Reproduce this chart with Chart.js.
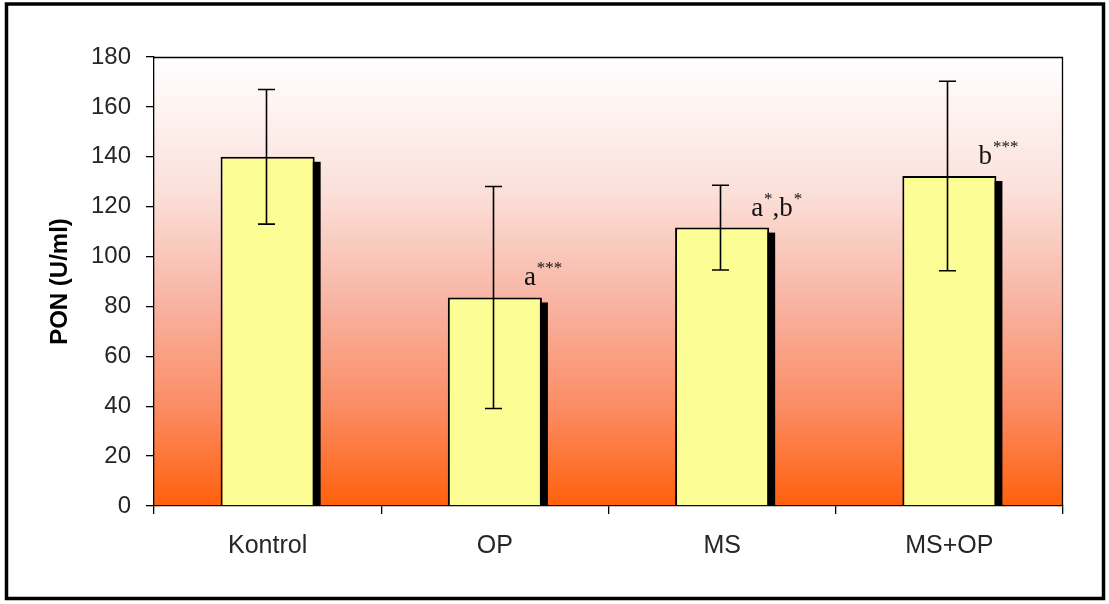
<!DOCTYPE html>
<html>
<head>
<meta charset="utf-8">
<script src="https://cdn.jsdelivr.net/npm/chart.js@4.4.0/dist/chart.umd.min.js"></script>
<style>
  html, body { margin: 0; padding: 0; background: #fff; }
  #wrap { width: 1109px; height: 604px; }
</style>
</head>
<body>
<div id="wrap"><canvas id="c" width="1109" height="604"></canvas></div>
<script>
// PON activity per group (U/ml): mean and standard deviation
const groups = ['Kontrol', 'OP', 'MS', 'MS+OP'];
const ponMean = [140, 83.6, 111.6, 132.3];
const ponSD = [27, 44.5, 17, 38];
// significance marks; "^" starts a superscript run of asterisks
const sigMarks = ['', 'a^***', 'a^*,b^*', 'b^***'];
const yMin = 0, yMax = 180, yStep = 20;

const SANS = '"Liberation Sans", Arial, sans-serif';
const SERIF = '"Liberation Serif", "Times New Roman", serif';

// page frame and graded plot background
const backdrop = {
  id: 'backdrop',
  beforeDraw(chart) {
    const { ctx, chartArea: a } = chart;
    ctx.save();
    ctx.fillStyle = '#fff';
    ctx.fillRect(0, 0, chart.width, chart.height);
    ctx.strokeStyle = '#000';
    ctx.lineWidth = 3.5;
    ctx.strokeRect(6.5, 4, 1097, 594.5);
    const g = ctx.createLinearGradient(0, a.top, 0, a.bottom);
    g.addColorStop(0, '#ffffff');
    g.addColorStop(0.3, '#fbe0da');
    g.addColorStop(0.55, '#f8b3a2');
    g.addColorStop(0.78, '#fb8c64');
    g.addColorStop(1, '#ff600c');
    ctx.fillStyle = g;
    ctx.fillRect(a.left, a.top, a.right - a.left, a.bottom - a.top);
    ctx.restore();
  },
  beforeDatasetsDraw(chart) {
    const { ctx, chartArea: a } = chart;
    ctx.save();
    // top and right edges of the plot box
    ctx.strokeStyle = '#000';
    ctx.lineWidth = 1.3;
    ctx.beginPath();
    ctx.moveTo(a.left, a.top + 0.5);
    ctx.lineTo(a.right - 0.5, a.top + 0.5);
    ctx.lineTo(a.right - 0.5, a.bottom);
    ctx.stroke();
    // drop shadows behind the bars
    ctx.beginPath();
    ctx.rect(a.left, a.top, a.right - a.left, a.bottom - a.top);
    ctx.clip();
    ctx.fillStyle = '#000';
    chart.getDatasetMeta(0).data.forEach(bar => {
      const p = bar.getProps(['x', 'y', 'base', 'width'], true);
      ctx.fillRect(p.x - p.width / 2 + 6, p.y + 5, p.width, p.base - p.y);
    });
    ctx.restore();
  },
  afterDatasetsDraw(chart) {
    const { ctx } = chart;
    const yScale = chart.scales.y;
    const meta = chart.getDatasetMeta(0);
    ctx.save();
    // error bars
    ctx.strokeStyle = '#000';
    ctx.lineWidth = 1.6;
    meta.data.forEach((bar, i) => {
      const x = Math.round(bar.x) - 1.5;
      const hi = yScale.getPixelForValue(ponMean[i] + ponSD[i]);
      const lo = yScale.getPixelForValue(ponMean[i] - ponSD[i]);
      const cap = 8.5;
      ctx.beginPath();
      ctx.moveTo(x, hi); ctx.lineTo(x, lo);
      ctx.moveTo(x - cap, hi); ctx.lineTo(x + cap, hi);
      ctx.moveTo(x - cap, lo); ctx.lineTo(x + cap, lo);
      ctx.stroke();
    });
    // significance letters
    ctx.fillStyle = '#111';
    ctx.textBaseline = 'alphabetic';
    ctx.textAlign = 'left';
    meta.data.forEach((bar, i) => {
      const mark = sigMarks[i];
      if (!mark) return;
      let x = bar.x + 29;
      const base = bar.y - 12;
      const parts = mark.match(/\^\*+|[^\^]+/g);
      parts.forEach(part => {
        if (part.startsWith('^')) {
          const t = part.slice(1);
          ctx.font = '17px ' + SERIF;
          ctx.fillText(t, x + 1, base - 12);
          x += ctx.measureText(t).width + 1;
        } else {
          ctx.font = '27px ' + SERIF;
          ctx.fillText(part, x, base);
          x += ctx.measureText(part).width;
        }
      });
    });
    ctx.restore();
  }
};

new Chart(document.getElementById('c'), {
  type: 'bar',
  data: {
    labels: groups,
    datasets: [{
      data: ponMean,
      backgroundColor: '#fdfd96',
      borderColor: '#000',
      borderWidth: { top: 2, left: 2, right: 2, bottom: 0 },
      barPercentage: 0.414,
      categoryPercentage: 1
    }]
  },
  options: {
    responsive: false,
    animation: false,
    devicePixelRatio: 1,
    layout: { padding: { left: 0, top: 57, right: 46, bottom: 0 } },
    plugins: { legend: { display: false }, tooltip: { enabled: false } },
    scales: {
      x: {
        afterFit(s) { s.height = 98; },
        grid: {
          offset: true,
          drawOnChartArea: false,
          drawTicks: true,
          tickLength: 8,
          color: '#000',
          lineWidth: 1.3
        },
        border: { display: true, color: '#000', width: 1.3 },
        ticks: {
          padding: 17,
          color: '#262626',
          font: { family: SANS, size: 25 }
        }
      },
      y: {
        min: yMin,
        max: yMax,
        afterFit(s) { s.width = 154; },
        grid: {
          drawOnChartArea: false,
          drawTicks: true,
          tickLength: 8,
          color: '#000',
          lineWidth: 1.3
        },
        border: { display: true, color: '#000', width: 1.3 },
        ticks: {
          stepSize: yStep,
          padding: 15,
          color: '#262626',
          font: { family: SANS, size: 24 }
        },
        title: {
          display: true,
          text: 'PON (U/ml)',
          color: '#000',
          padding: { top: 46, bottom: 0 },
          font: { family: SANS, size: 24, weight: 'bold' }
        }
      }
    }
  },
  plugins: [backdrop]
});
</script>
</body>
</html>
